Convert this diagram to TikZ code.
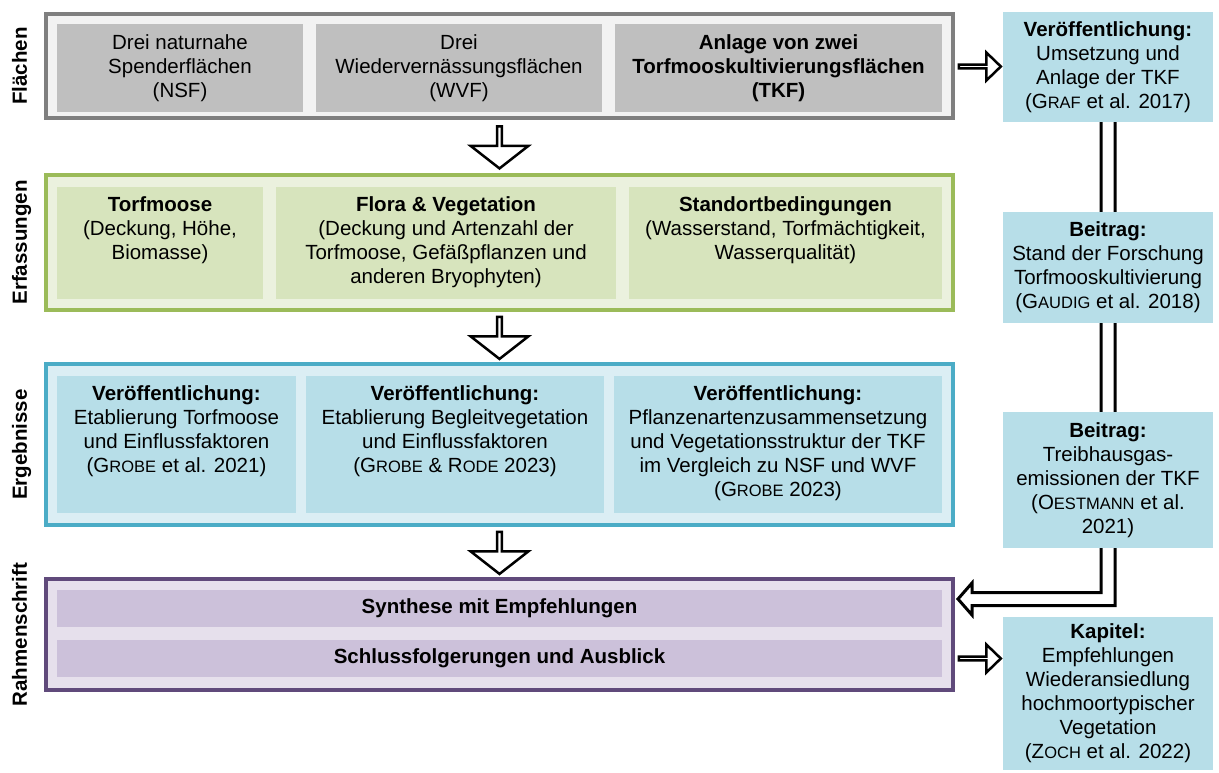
\documentclass[tikz,border=0pt]{standalone}
\usepackage{fontspec}
\setmainfont{Liberation Sans}
\usetikzlibrary{positioning,calc,shapes.arrows}

\definecolor{grauRand}{HTML}{7F7F7F}
\definecolor{grauHell}{HTML}{F2F2F2}
\definecolor{grauBox}{HTML}{BFBFBF}
\definecolor{gruenRand}{HTML}{9BBB59}
\definecolor{gruenHell}{HTML}{EBF1DE}
\definecolor{gruenBox}{HTML}{D7E4BD}
\definecolor{blauRand}{HTML}{4BACC6}
\definecolor{blauHell}{HTML}{DBEEF4}
\definecolor{blauBox}{HTML}{B7DEE8}
\definecolor{lilaRand}{HTML}{604A7B}
\definecolor{lilaHell}{HTML}{E6E0EC}
\definecolor{lilaBox}{HTML}{CCC1DA}

% Autorennamen in Kapitaelchen
\newcommand{\autor}[2]{#1{\fontsize{16.5}{24}\selectfont #2}}

\tikzset{
  frame/.style={draw, line width=4pt, minimum width=907pt, inner sep=0pt},
  cell/.style={inner sep=0pt, align=center},
  toptext/.style={inner sep=0pt, align=center, execute at begin node=\strut},
  sidelabel/.style={rotate=90, anchor=base, inner sep=0pt, font=\fontsize{20.5}{24}\selectfont\bfseries},
  downarrow/.style={single arrow, draw, fill=white, line width=2.5pt, shape border rotate=270,
    minimum height=42pt, minimum width=58pt, single arrow head extend=14pt,
    single arrow tip angle=104, inner sep=0pt},
  rightarrow/.style={single arrow, draw, fill=white, line width=2.5pt,
    minimum height=42pt, minimum width=28pt, single arrow head extend=8.5pt,
    single arrow tip angle=88, inner sep=0pt},
  hollow/.style={draw, fill=white, line width=3pt, line join=miter}
}

\begin{document}
\begin{tikzpicture}[x=1pt, y=-1pt, font=\fontsize{20.5}{24}\selectfont]
  \useasboundingbox (0,0) rectangle (1219,773);

  % Rahmen
  \node[frame, draw=grauRand, fill=grauHell, minimum height=104pt] (flaechen) at (499.5,66) {};
  \node[frame, draw=gruenRand, fill=gruenHell, minimum height=135pt] (erfassung) at (499.5,242.5) {};
  \node[frame, draw=blauRand, fill=blauHell, minimum height=161pt] (ergebnis) at (499.5,444.5) {};
  \node[frame, draw=lilaRand, fill=lilaHell, minimum height=111pt] (rahmen) at (499.5,634.5) {};

  \node[sidelabel] (lflaechen) at ($(flaechen.west)+(-17,0)$) {Flächen};
  \node[sidelabel] (lerfassung) at ($(erfassung.west)+(-17,0)$) {Erfassungen};
  \node[sidelabel] (lergebnis) at ($(ergebnis.west)+(-17,0)$) {Ergebnisse};
  \node[sidelabel] (lrahmen) at ($(rahmen.west)+(-17,0)$) {Rahmenschrift};

  % Flaechen
  \node[cell, fill=grauBox, minimum width=246pt, minimum height=88pt] (nsf) at (180,68)
    {Drei naturnahe\\Spenderflächen\\(NSF)};
  \node[cell, fill=grauBox, minimum width=286pt, minimum height=88pt] (wvf) at (459,68)
    {Drei\\Wiedervernässungsflächen\\(WVF)};
  \node[cell, fill=grauBox, minimum width=327pt, minimum height=88pt, font=\fontsize{20.5}{24}\selectfont\bfseries] (tkf) at (778.5,68)
    {Anlage von zwei\\Torfmooskultivierungsflächen\\(TKF)};

  % Erfassungen
  \node[cell, fill=gruenBox, minimum width=206pt, minimum height=112pt] (torf) at (160,243) {};
  \node[cell, fill=gruenBox, minimum width=340pt, minimum height=112pt] (flora) at (446,243) {};
  \node[cell, fill=gruenBox, minimum width=313pt, minimum height=112pt] (standort) at (785.5,243) {};
  \node[toptext, below=10pt of torf.north] (torftxt)
    {\textbf{Torfmoose}\\(Deckung, Höhe,\\Biomasse)};
  \node[toptext, below=10pt of flora.north] (floratxt)
    {\textbf{Flora \& Vegetation}\\(Deckung und Artenzahl der\\Torfmoose, Gefäßpflanzen und\\anderen Bryophyten)};
  \node[toptext, below=10pt of standort.north] (standorttxt)
    {\textbf{Standortbedingungen}\\(Wasserstand, Torfmächtigkeit,\\Wasserqualität)};

  % Ergebnisse
  \node[cell, fill=blauBox, minimum width=239pt, minimum height=137pt] (etab) at (176.5,444.5) {};
  \node[cell, fill=blauBox, minimum width=298pt, minimum height=137pt] (begleit) at (455,444.5) {};
  \node[cell, fill=blauBox, minimum width=328pt, minimum height=137pt] (pflanzen) at (778,444.5) {};
  \node[toptext, below=10pt of etab.north] (etabtxt)
    {\textbf{Veröffentlichung:}\\Etablierung Torfmoose\\und Einflussfaktoren\\(\autor{G}{ROBE} et al. 2021)};
  \node[toptext, below=10pt of begleit.north] (begleittxt)
    {\textbf{Veröffentlichung:}\\Etablierung Begleitvegetation\\und Einflussfaktoren\\(\autor{G}{ROBE} \& \autor{R}{ODE} 2023)};
  \node[toptext, below=10pt of pflanzen.north] (pflanzentxt)
    {\textbf{Veröffentlichung:}\\Pflanzenartenzusammensetzung\\und Vegetationsstruktur der TKF\\im Vergleich zu NSF und WVF\\(\autor{G}{ROBE} 2023)};

  % Rahmenschrift
  \node[cell, fill=lilaBox, minimum width=885pt, minimum height=37pt] (synthese) at (499.5,608.5)
    {\textbf{Synthese mit Empfehlungen}};
  \node[cell, fill=lilaBox, minimum width=885pt, minimum height=37pt] (schluss) at (499.5,658.5)
    {\textbf{Schlussfolgerungen und Ausblick}};

  % Pfeile zwischen den Rahmen
  \node[downarrow] (pfeil1) at ($(flaechen.south)!0.5!(erfassung.north)$) {};
  \node[downarrow] (pfeil2) at ($(erfassung.south)!0.5!(ergebnis.north)$) {};
  \node[downarrow] (pfeil3) at ($(ergebnis.south)!0.5!(rahmen.north)$) {};

  % rechte Spalte
  \node[cell, fill=blauBox, minimum width=210pt, minimum height=110pt] (pub1) at (1108,67)
    {\textbf{Veröffentlichung:}\\Umsetzung und\\Anlage der TKF\\(\autor{G}{RAF} et al. 2017)};
  \node[cell, fill=blauBox, minimum width=210pt, minimum height=153pt] (kapitel) at (1108,693.5)
    {\textbf{Kapitel:}\\Empfehlungen\\Wiederansiedlung\\hochmoortypischer\\Vegetation\\(\autor{Z}{OCH} et al. 2022)};

  \node[rightarrow] (pfeil4) at ($(flaechen.east)!0.5!(pub1.west)$) {};
  \node[rightarrow] (pfeil5) at ($(rahmen.east |- schluss)!0.5!(kapitel.west |- schluss)$) {};

  % Doppelpfeil zur Synthese
  \coordinate (spitze) at ($(rahmen.north east)+(3,22)$);
  \draw[hollow] ($(pub1.south)+(-7,0)$) |- ($(spitze)+(14,-6.5)$) -- ($(spitze)+(14,-16)$)
    -- (spitze) -- ($(spitze)+(14,16)$) -- ($(spitze)+(14,6.5)$) -| ($(pub1.south)+(7,0)$);

  \node[cell, fill=blauBox, minimum width=210pt, minimum height=111pt] (beitrag1) at (1108,267.5)
    {\textbf{Beitrag:}\\Stand der Forschung\\Torfmooskultivierung\\(\autor{G}{AUDIG} et al. 2018)};
  \node[cell, fill=blauBox, minimum width=210pt, minimum height=136pt] (beitrag2) at (1108,480)
    {\textbf{Beitrag:}\\Treibhausgas-\\emissionen der TKF\\(\autor{O}{ESTMANN} et al.\\2021)};
\end{tikzpicture}
\end{document}
